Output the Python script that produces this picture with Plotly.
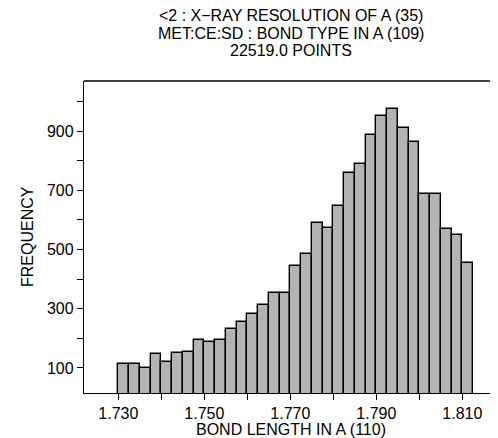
import plotly.graph_objects as go

# histogram bins (left edge of each bin, width 0.0025)
bin_starts = [1.7300, 1.7325, 1.7350, 1.7375, 1.7400, 1.7425, 1.7450, 1.7475,
              1.7500, 1.7525, 1.7550, 1.7575, 1.7600, 1.7625, 1.7650, 1.7675,
              1.7700, 1.7725, 1.7750, 1.7775, 1.7800, 1.7825, 1.7850, 1.7875,
              1.7900, 1.7925, 1.7950, 1.7975, 1.8000, 1.8025, 1.8050, 1.8075,
              1.8100]
bin_width = 0.0025
counts = [113, 112, 101, 148, 121, 152, 154, 196, 187, 196, 232, 254, 283,
          313, 354, 353, 446, 484, 591, 572, 648, 759, 789, 885, 952, 973,
          911, 862, 688, 686, 570, 548, 453]

title_lines = ["<2 : X\u2212RAY RESOLUTION OF A (35)",
               "MET:CE:SD : BOND TYPE IN A (109)",
               "22519.0 POINTS"]
x_ticks = [1.730, 1.750, 1.770, 1.790, 1.810]
y_ticks = [100, 300, 500, 700, 900]

fig = go.Figure()
fig.add_trace(go.Bar(
    x=bin_starts, y=counts, width=bin_width, offset=0,
    marker=dict(color="#b3b3b3", line=dict(color="#000000", width=1.4)),
))

fnt = dict(family="Liberation Sans, Arial, sans-serif", size=16, color="black")

# page body has an 8px margin, so the figure is 8px smaller each way
fig.update_layout(
    width=490, height=430,
    margin=dict(l=76, r=0, t=73, b=45),
    plot_bgcolor="white", paper_bgcolor="white",
    showlegend=False, bargap=0,
    font=fnt,
    xaxis=dict(range=[1.7220, 1.8183], tickvals=x_ticks,
               ticktext=["%.3f" % v for v in x_ticks],
               ticks="outside", ticklen=6, tickwidth=1, tickcolor="black",
               showline=True, linecolor="black", linewidth=1.3,
               showgrid=False, zeroline=False,
               minor=dict(tickvals=[1.740, 1.760, 1.780, 1.800], ticks="outside",
                          ticklen=6, tickcolor="black", tickwidth=1)),
    yaxis=dict(range=[15.5, 1069], tickvals=y_ticks,
               ticks="outside", ticklen=6, tickwidth=1, tickcolor="black",
               showline=True, linecolor="black", linewidth=1.3,
               showgrid=False, zeroline=False,
               minor=dict(tickvals=[200, 400, 600, 800, 1000], ticks="outside",
                          ticklen=6, tickcolor="black", tickwidth=1)),
)

# top border of the box
fig.add_shape(type="line", xref="paper", yref="paper", x0=0, x1=1, y0=1, y1=1,
              line=dict(color="black", width=1.3))

for line, ypx in zip(title_lines, [15, 33, 51]):
    fig.add_annotation(text=line, xref="paper", yref="paper", x=0.5,
                       y=(393 - ypx) / 312, showarrow=False,
                       xanchor="center", yanchor="middle", font=fnt)

fig.add_annotation(text="BOND LENGTH IN A (110)", xref="paper", yref="paper",
                   x=(291 - 84) / 414, y=(393 - 429) / 312, showarrow=False,
                   xanchor="center", yanchor="middle", font=fnt)
fig.add_annotation(text="FREQUENCY", xref="paper", yref="paper",
                   x=(27 - 84) / 414, y=(393 - 237) / 312, showarrow=False,
                   textangle=-90, xanchor="center", yanchor="middle", font=fnt)

fig.write_html("out.html")
